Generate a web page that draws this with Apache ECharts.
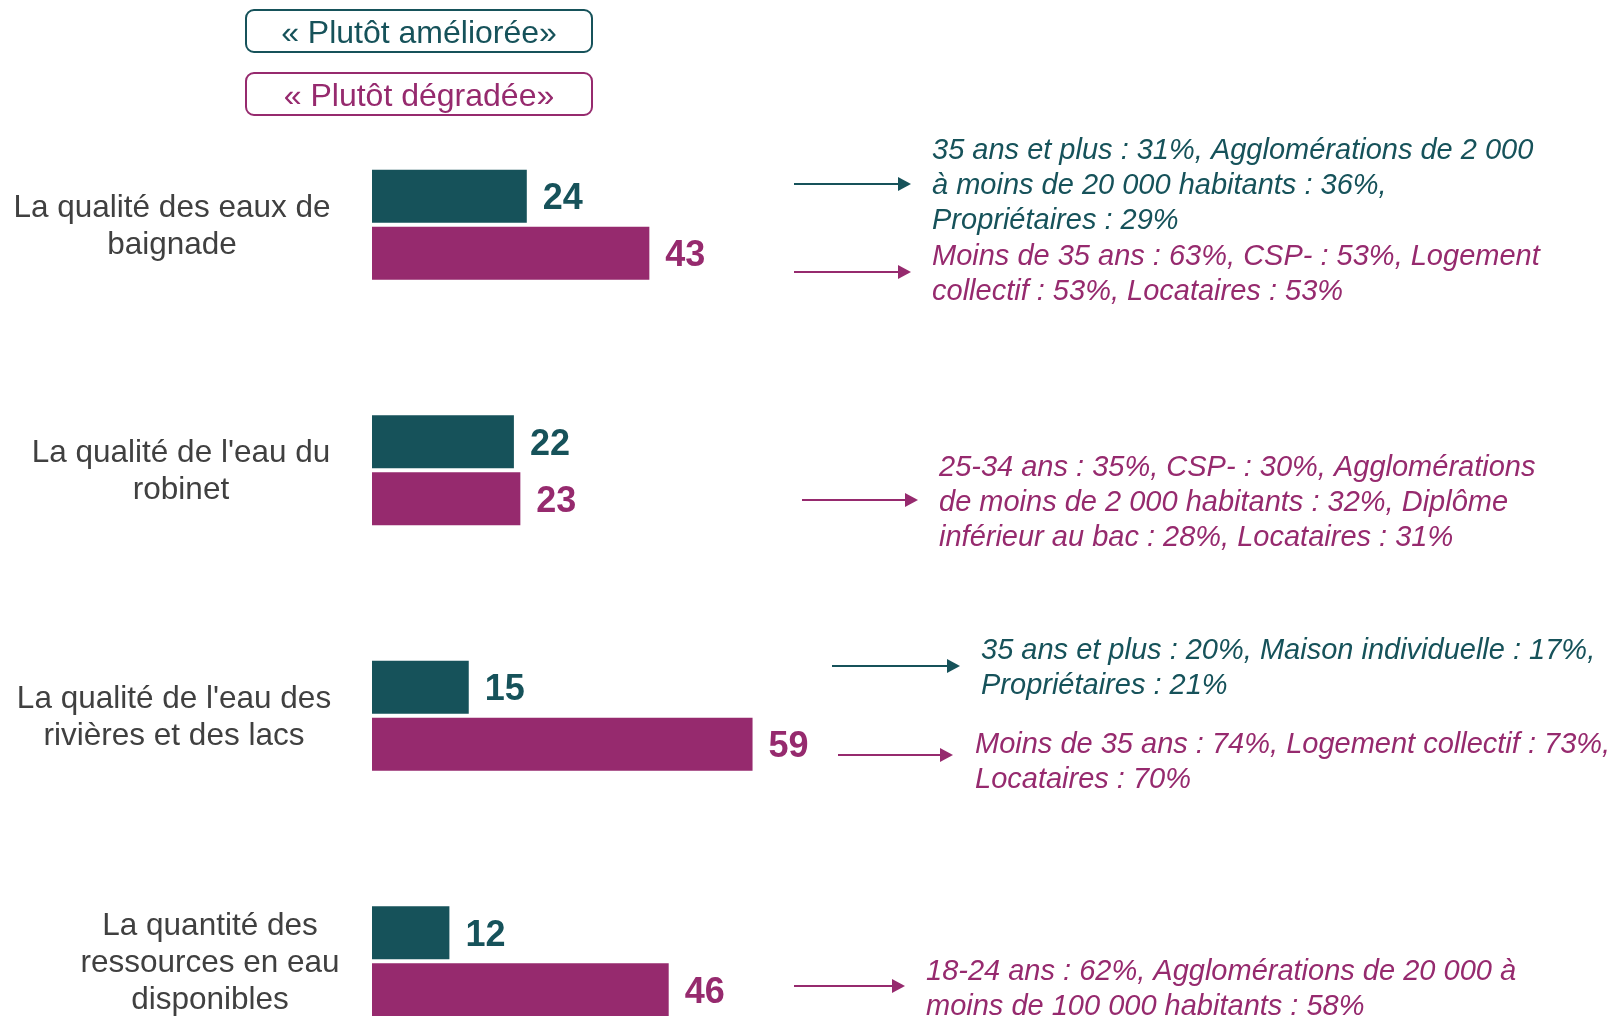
<!DOCTYPE html>
<html>
<head>
<meta charset="utf-8">
<script src="https://cdn.jsdelivr.net/npm/echarts@6/dist/echarts.min.js"></script>
<style>
  html, body { margin: 0; padding: 0; background: #fff; }
  #main { width: 1616px; height: 1016px; }
</style>
</head>
<body>
<div id="main"></div>
<script>
// données
const categories = [
  "La qualité des eaux de\nbaignade",
  "La qualité de l'eau du\nrobinet",
  "La qualité de l'eau des\nrivières et des lacs",
  "La quantité des\nressources en eau\ndisponibles"
];
const seriesNames = ["« Plutôt améliorée»", "« Plutôt dégradée»"];
const ameliore = [24, 22, 15, 12];
const degrade = [43, 23, 59, 46];

// commentaires (serie 0 = améliorée, 1 = dégradée)
const noteSeries = [0, 1, 1, 0, 1, 1];
const noteTexts = [
  ["35 ans et plus : 31%, Agglomérations de 2 000", "à moins de 20 000 habitants : 36%,", "Propriétaires : 29%"],
  ["Moins de 35 ans : 63%, CSP- : 53%, Logement", "collectif : 53%, Locataires : 53%"],
  ["25-34 ans : 35%, CSP- : 30%, Agglomérations", "de moins de 2 000 habitants : 32%, Diplôme", "inférieur au bac : 28%, Locataires : 31%"],
  ["35 ans et plus : 20%, Maison individuelle : 17%,", "Propriétaires : 21%"],
  ["Moins de 35 ans : 74%, Logement collectif : 73%,", "Locataires : 70%"],
  ["18-24 ans : 62%, Agglomérations de 20 000 à", "moins de 100 000 habitants : 58%"]
];

// mise en page des commentaires : [x flèche début, x flèche fin, y flèche, x texte, y haut texte]
const noteLayout = [
  [794, 911, 184, 932, 133],
  [794, 911, 272, 932, 239],
  [802, 918, 500, 939, 450],
  [832, 960, 666, 981, 633],
  [838, 953, 755, 975, 727],
  [794, 905, 986, 926, 954]
];

const colors = ["#16525a", "#962a6e"];
const font = "Liberation Sans";
const labelWidths = [338, 320, 334, 262];

const rich = {};
labelWidths.forEach((w, i) => {
  rich["c" + i] = {
    width: w, align: "center", fontSize: 31.5, lineHeight: 37,
    fontFamily: font, color: "#404040"
  };
});

const graphics = [];
noteTexts.forEach((lines, i) => {
  const [x1, x2, y, tx, ty] = noteLayout[i];
  const c = colors[noteSeries[i]];
  graphics.push({
    type: "line", shape: { x1: x1, y1: y, x2: x2 - 10, y2: y },
    style: { stroke: c, lineWidth: 2 }, silent: true
  });
  graphics.push({
    type: "polygon", shape: { points: [[x2 - 13, y - 7], [x2, y], [x2 - 13, y + 7]] },
    style: { fill: c }, silent: true
  });
  graphics.push({
    type: "text", left: tx, top: ty, silent: true,
    style: {
      text: lines.join("\n"), fill: c, fontSize: 29, lineHeight: 35,
      fontStyle: "italic", fontFamily: font
    }
  });
});

const chart = echarts.init(document.getElementById("main"));
chart.setOption({
  animation: false,
  backgroundColor: "#fff",
  legend: {
    orient: "vertical", left: 236, top: 4, itemGap: 19,
    icon: "none", itemWidth: 0, itemHeight: 0, selectedMode: false,
    formatter: "{t|{name}}",
    data: seriesNames.map((n, i) => ({
      name: n,
      textStyle: { color: colors[i], borderColor: colors[i] }
    })),
    textStyle: {
      borderWidth: 2, borderRadius: 8, padding: [6, 6, 0, 6],
      rich: { t: { width: 334, align: "center", fontSize: 32, lineHeight: 36, fontFamily: font } }
    }
  },
  grid: { left: 372, top: 102, width: 645, height: 982, outerBoundsMode: "none", containLabel: false },
  xAxis: { type: "value", min: 0, max: 100, show: false },
  yAxis: {
    type: "category", inverse: true, data: categories,
    axisLine: { show: false }, axisTick: { show: false },
    axisLabel: {
      margin: 31, padding: [4, 0, 0, 0],
      formatter: (v, idx) => v.split("\n").map(l => "{c" + idx + "|" + l + "}").join("\n"),
      rich: rich
    }
  },
  series: [ameliore, degrade].map((d, i) => ({
    name: seriesNames[i], type: "bar", data: d,
    barWidth: 53, barGap: "8%",
    itemStyle: { color: colors[i] },
    label: {
      show: true, position: "right", distance: 16, offset: [0, 3],
      fontSize: 36, fontWeight: "bold", fontFamily: font, color: colors[i]
    }
  })),
  graphic: graphics
});
</script>
</body>
</html>
